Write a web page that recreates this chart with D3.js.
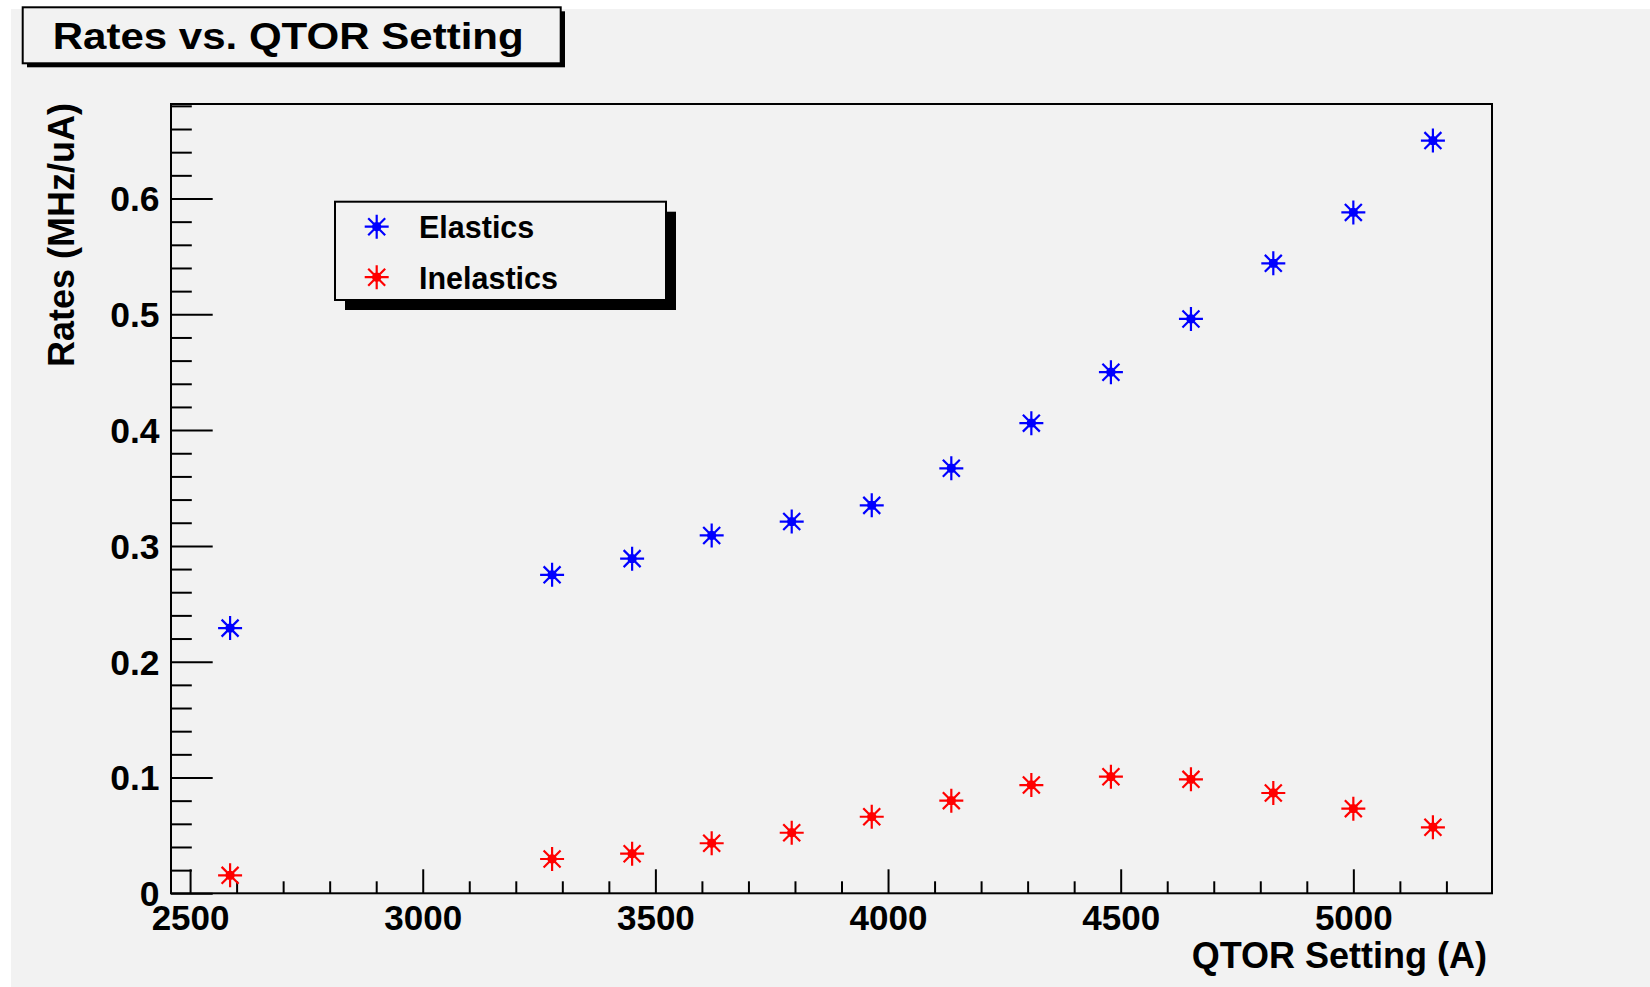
<!DOCTYPE html>
<html>
<head>
<meta charset="utf-8">
<script src="https://cdn.jsdelivr.net/npm/d3@7"></script>
<style>
  html, body { margin: 0; padding: 0; background: #ffffff; }
  svg text { font-family: "Liberation Sans", Arial, sans-serif; font-weight: bold; fill: #000; }
</style>
</head>
<body>
<div id="chart-area"></div>
<script>
// QTOR scan: rates per beam current
var qtorSetting = [2586, 3278, 3450, 3621, 3793, 3965, 4136, 4308, 4479, 4651, 4828, 5000, 5171];
var elastics    = [0.229, 0.275, 0.289, 0.309, 0.321, 0.335, 0.367, 0.406, 0.450, 0.496, 0.544, 0.588, 0.650];
var inelastics  = [0.0155, 0.0296, 0.0342, 0.0432, 0.0523, 0.0661, 0.0800, 0.0935, 0.1007, 0.0984, 0.0866, 0.0731, 0.0570];

var xTicks = [2500, 3000, 3500, 4000, 4500, 5000];
var yTicks = [0, 0.1, 0.2, 0.3, 0.4, 0.5, 0.6];
var seriesNames = ["Elastics", "Inelastics"];
var seriesColors = ["#0000ff", "#ff0000"];

var width = 1650, height = 987;
var plotLeft = 171, plotRight = 1492, plotTop = 104, plotBottom = 893.3;

var svg = d3.select("#chart-area").append("svg")
	.attr("width", width)
	.attr("height", height);

// canvas background (ROOT grey)
svg.append("rect").attr("x", 11).attr("y", 9).attr("width", width - 11).attr("height", height - 9).attr("fill", "#f2f2f2");

var x = d3.scaleLinear().domain([2459, 5298]).range([plotLeft, plotRight]);
var y = d3.scaleLinear().domain([0, 0.6816]).range([plotBottom, plotTop]);

// minor ticks
var xMinor = d3.range(2500, 5298, 100).filter(function(v) { return v % 500 !== 0; });
var yMinor = d3.range(0, 69, 2).map(function(v) { return v / 100; }).filter(function(v) { return Math.round(v * 100) % 10 !== 0; });

svg.append("g").attr("transform", "translate(0," + plotBottom + ")")
	.call(d3.axisBottom(x).tickValues(xMinor).tickSizeInner(-12).tickSizeOuter(0).tickFormat(""))
	.call(function(g) { g.select(".domain").remove(); g.selectAll("line").attr("stroke-width", 2); });

svg.append("g").attr("transform", "translate(" + plotLeft + ",0)")
	.call(d3.axisLeft(y).tickValues(yMinor).tickSizeInner(-20.8).tickSizeOuter(0).tickFormat(""))
	.call(function(g) { g.select(".domain").remove(); g.selectAll("line").attr("stroke-width", 2); });

// major ticks + labels
svg.append("g").attr("transform", "translate(0," + plotBottom + ")")
	.call(d3.axisBottom(x).tickValues(xTicks).tickSizeInner(-24).tickSizeOuter(0).tickPadding(12).tickFormat(d3.format("d")))
	.call(function(g) {
		g.select(".domain").remove();
		g.selectAll("line").attr("stroke-width", 2);
		g.selectAll("text").attr("font-size", 35).attr("font-family", null);
	});

svg.append("g").attr("transform", "translate(" + plotLeft + ",0)")
	.call(d3.axisLeft(y).tickValues(yTicks).tickSizeInner(-41.7).tickSizeOuter(0).tickPadding(11.5)
		.tickFormat(function(d) { return d === 0 ? "0" : d3.format(".1f")(d); }))
	.call(function(g) {
		g.select(".domain").remove();
		g.selectAll("line").attr("stroke-width", 2);
		g.selectAll("text").attr("font-size", 35.5).attr("font-family", null).attr("dy", "0.35em");
	});

// frame
svg.append("rect").attr("x", plotLeft).attr("y", plotTop).attr("width", plotRight - plotLeft).attr("height", plotBottom - plotTop)
	.attr("fill", "none").attr("stroke", "#000").attr("stroke-width", 2);

// axis titles
svg.append("text").attr("x", 1487).attr("y", 968).attr("text-anchor", "end").attr("font-size", 36)
	.text("QTOR Setting (A)");
svg.append("text").attr("transform", "translate(74,103) rotate(-90)").attr("text-anchor", "end").attr("font-size", 36)
	.text("Rates (MHz/uA)");

// star marker (ROOT style 3)
var starType = {
	draw: function(ctx, size) {
		var r = Math.sqrt(size) / 2, d = r * Math.SQRT1_2, c = r * 0.3;
		ctx.moveTo(-r, 0); ctx.lineTo(r, 0);
		ctx.moveTo(0, -r); ctx.lineTo(0, r);
		ctx.moveTo(-d, -d); ctx.lineTo(d, d);
		ctx.moveTo(-d, d); ctx.lineTo(d, -d);
		ctx.moveTo(c, 0); ctx.arc(0, 0, c, 0, 2 * Math.PI);
	}
};
var star = d3.symbol().type(starType).size(576);

var series = [elastics, inelastics];
series.forEach(function(vals, i) {
	svg.append("g").selectAll("path").data(vals).join("path")
		.attr("transform", function(d, j) { return "translate(" + x(qtorSetting[j]) + "," + y(d) + ")"; })
		.attr("d", star)
		.attr("fill", seriesColors[i]).attr("stroke", seriesColors[i]).attr("stroke-width", 2.2);
});

// legend
var leg = svg.append("g");
leg.append("rect").attr("x", 345).attr("y", 211.7).attr("width", 331).attr("height", 98.3).attr("fill", "#000");
leg.append("rect").attr("x", 335).attr("y", 201.7).attr("width", 331).attr("height", 98.3)
	.attr("fill", "#f2f2f2").attr("stroke", "#000").attr("stroke-width", 2);
seriesNames.forEach(function(name, i) {
	leg.append("path").attr("transform", "translate(376.7," + (226.7 + i * 50.5) + ")").attr("d", star)
		.attr("fill", seriesColors[i]).attr("stroke", seriesColors[i]).attr("stroke-width", 2.2);
	leg.append("text").attr("x", 419).attr("y", 238 + i * 51).attr("font-size", 30.5).text(name);
});

// title box
var tb = svg.append("g");
tb.append("rect").attr("x", 27).attr("y", 11.3).attr("width", 538).attr("height", 56).attr("fill", "#000");
tb.append("rect").attr("x", 22.7).attr("y", 7.3).attr("width", 538).attr("height", 56)
	.attr("fill", "#f2f2f2").attr("stroke", "#000").attr("stroke-width", 2);
tb.append("text").attr("x", 52.7).attr("y", 49.3).attr("font-size", 37)
	.attr("textLength", 471).attr("lengthAdjust", "spacingAndGlyphs").text("Rates vs. QTOR Setting");
</script>
</body>
</html>
